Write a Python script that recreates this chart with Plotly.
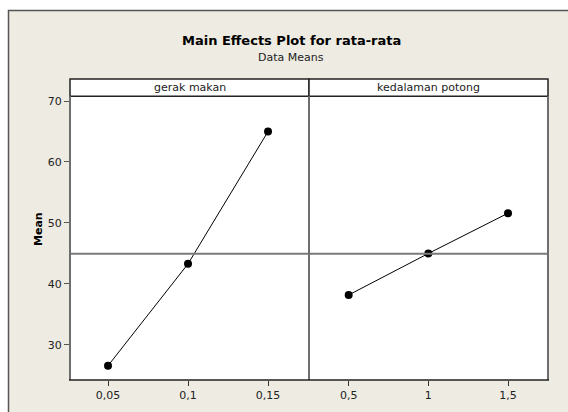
import numpy as np
import plotly.graph_objects as go

W, H = 568, 412

# ---- data ----
factor_names = ["gerak makan", "kedalaman potong"]
gerak_levels = [0.05, 0.10, 0.15]
gerak_labels = ["0,05", "0,1", "0,15"]
gerak_means = [26.6, 43.3, 65.0]
kedalaman_levels = [0.5, 1.0, 1.5]
kedalaman_labels = ["0,5", "1", "1,5"]
kedalaman_means = [38.2, 45.0, 51.6]
y_ticks = [30, 40, 50, 60, 70]

grand_mean = float(np.mean(gerak_means))

# ---- geometry (pixels) ----
px_left, px_mid, px_right = 70, 309, 548
py_top, py_bottom = 96.3, 380
strip_top = 79

def fx(p):
    return p / W

def fy(p):
    return 1 - p / H

BG = "#EEEBE2"
FONT = "Tahoma, DejaVu Sans, sans-serif"

fig = go.Figure()

marker = dict(color="black", size=8)
line = dict(color="black", width=1)
fig.add_trace(go.Scatter(x=gerak_levels, y=gerak_means, mode="lines+markers",
                         marker=marker, line=line, xaxis="x", yaxis="y",
                         showlegend=False, hoverinfo="skip"))
fig.add_trace(go.Scatter(x=kedalaman_levels, y=kedalaman_means, mode="lines+markers",
                         marker=marker, line=line, xaxis="x2", yaxis="y2",
                         showlegend=False, hoverinfo="skip"))

yrange = [24.26, 70.77]
common_x = dict(showgrid=False, zeroline=False, ticks="outside", ticklen=5,
                tickcolor="#333", tickfont=dict(family=FONT, size=11, color="#222"),
                showline=False)
fig.update_layout(
    width=W, height=H,
    margin=dict(l=0, r=0, t=0, b=0),
    paper_bgcolor="white",
    plot_bgcolor="white",
    xaxis=dict(domain=[fx(px_left), fx(px_mid)], range=[0.02625, 0.1756],
               tickvals=gerak_levels, ticktext=gerak_labels, anchor="y", **common_x),
    xaxis2=dict(domain=[fx(px_mid), fx(px_right)], range=[0.251, 1.751],
                tickvals=kedalaman_levels, ticktext=kedalaman_labels, anchor="y2", **common_x),
    yaxis=dict(domain=[fy(py_bottom), fy(py_top)], range=yrange, tickvals=y_ticks,
               showgrid=False, zeroline=False, ticks="outside", ticklen=5, tickcolor="#555",
               tickfont=dict(family=FONT, size=11, color="#222"), anchor="x"),
    yaxis2=dict(domain=[fy(py_bottom), fy(py_top)], range=yrange, showticklabels=False,
                showgrid=False, zeroline=False, anchor="x2", matches="y"),
)

shapes = []
# outer frame
shapes.append(dict(type="rect", xref="paper", yref="paper", x0=fx(8.5), x1=fx(W + 20),
                   y0=fy(H + 20), y1=fy(10.5), fillcolor=BG,
                   line=dict(color="#555", width=1.5), layer="below"))
# white plot area backgrounds (below)
shapes.append(dict(type="rect", xref="paper", yref="paper", x0=fx(px_left), x1=fx(px_right),
                   y0=fy(py_bottom), y1=fy(py_top), fillcolor="white",
                   line=dict(width=0), layer="below"))
# strips
for a, b in [(px_left, px_mid), (px_mid, px_right)]:
    shapes.append(dict(type="rect", xref="paper", yref="paper", x0=fx(a), x1=fx(b),
                       y0=fy(py_top), y1=fy(strip_top), fillcolor="white",
                       line=dict(color="#222", width=1.5)))
# mean line
shapes.append(dict(type="line", xref="paper", yref="y", x0=fx(px_left), x1=fx(px_right),
                   y0=grand_mean, y1=grand_mean, line=dict(color="#7a7a7a", width=2)))
# vertical panel borders
for xp in [px_left, px_mid, px_right]:
    shapes.append(dict(type="line", xref="paper", yref="paper", x0=fx(xp), x1=fx(xp),
                       y0=fy(py_bottom), y1=fy(py_top), line=dict(color="#6e6e6e", width=2)))
# bottom axis line
shapes.append(dict(type="line", xref="paper", yref="paper", x0=fx(px_left - 1), x1=fx(px_right + 1),
                   y0=fy(py_bottom), y1=fy(py_bottom), line=dict(color="#222", width=1.5)))

annotations = [
    dict(text="<b>Main Effects Plot for rata-rata</b>", xref="paper", yref="paper",
         x=fx(291), y=fy(41), showarrow=False, xanchor="center", yanchor="middle",
         font=dict(family=FONT, size=13, color="black")),
    dict(text="Data Means", xref="paper", yref="paper",
         x=fx(291), y=fy(57), showarrow=False, xanchor="center", yanchor="middle",
         font=dict(family=FONT, size=11, color="#222")),
    dict(text="<b>Mean</b>", xref="paper", yref="paper", x=fx(38), y=fy(229),
         showarrow=False, textangle=-90, xanchor="center", yanchor="middle",
         font=dict(family=FONT, size=11, color="black")),
]
for name, (a, b) in zip(factor_names, [(px_left, px_mid), (px_mid, px_right)]):
    annotations.append(dict(text=name, xref="paper", yref="paper", x=fx((a + b) / 2),
                            y=fy((strip_top + py_top) / 2), showarrow=False,
                            xanchor="center", yanchor="middle",
                            font=dict(family=FONT, size=11, color="#222")))

fig.update_layout(shapes=shapes, annotations=annotations)
fig.write_html("out.html")
